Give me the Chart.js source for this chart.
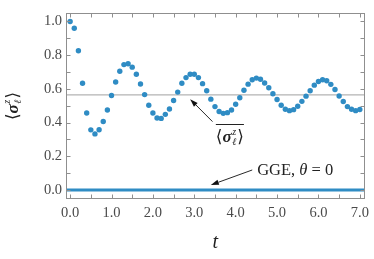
<!DOCTYPE html>
<html><head><meta charset="utf-8">
<script src="https://cdn.jsdelivr.net/npm/chart.js@4.4.1/dist/chart.umd.min.js"></script>
<style>html,body{margin:0;padding:0;background:#fff}#wrap{width:374px;height:259px}</style>
</head><body><div id="wrap"><canvas id="c" width="374" height="259"></canvas></div>
<script>
// ---- data ----
const times = [0.0,0.1,0.2,0.3,0.4,0.5,0.6,0.7,0.8,0.9,1.0,1.1,1.2,1.3,1.4,1.5,1.6,1.7,1.8,1.9,2.0,2.1,2.2,2.3,2.4,2.5,2.6,2.7,2.8,2.9,3.0,3.1,3.2,3.3,3.4,3.5,3.6,3.7,3.8,3.9,4.0,4.1,4.2,4.3,4.4,4.5,4.6,4.7,4.8,4.9,5.0,5.1,5.2,5.3,5.4,5.5,5.6,5.7,5.8,5.9,6.0,6.1,6.2,6.3,6.4,6.5,6.6,6.7,6.8,6.9,7.0];
const sigmaZ = [1.000,0.960,0.826,0.633,0.457,0.357,0.333,0.358,0.407,0.475,
  0.561,0.641,0.705,0.744,0.749,0.729,0.687,0.629,0.566,0.503,
  0.457,0.427,0.425,0.449,0.481,0.531,0.581,0.633,0.667,0.687,
  0.687,0.667,0.631,0.589,0.539,0.495,0.466,0.455,0.459,0.475,
  0.509,0.547,0.592,0.628,0.654,0.664,0.657,0.635,0.607,0.571,
  0.537,0.503,0.479,0.471,0.477,0.497,0.526,0.557,0.589,0.622,
  0.644,0.654,0.648,0.627,0.596,0.558,0.525,0.495,0.479,0.471,
  0.478];
const timeAverage = 0.565;
const ggeValue = 0.0;
const xTickLabels = [0,1,2,3,4,5,6,7];
const xTickMarks = [0,0.5,1,1.5,2,2.5,3,3.5,4,4.5,5,5.5,6,6.5,7];
const yTickLabels = [0,0.2,0.4,0.6,0.8,1.0];
const yTickMarks = [0,0.1,0.2,0.3,0.4,0.5,0.6,0.7,0.8,0.9,1.0];
const ggeText = ['GGE, ', 'θ', ' = 0'];

// ---- style / layout ----
const X_MIN = -0.1, X_MAX = 7.12, Y_MIN = -0.053, Y_MAX = 1.05;
const SERIF = "'Liberation Serif','DejaVu Serif',serif";
const BLUE = '#2f8cc4';
const notes = {
  avgArrow: {from: [3.44, 0.406], to: [2.90, 0.539]},
  avgLabel: [3.86, 0.32],
  ggeArrow: {from: [4.40, 0.119], to: [3.40, 0.03]},
  ggeLabel: [4.52, 0.115]
};

function drawSigma(ctx, cx, cy, size, overline) {
  const base = size + 'px ' + SERIF;
  const bold = 'italic bold ' + size + 'px ' + SERIF;
  const small = 'italic ' + Math.round(size * 0.6) + 'px ' + SERIF;
  ctx.font = base;
  const wL = ctx.measureText('⟨').width, wR = ctx.measureText('⟩').width;
  ctx.font = bold; const wS = ctx.measureText('σ').width;
  ctx.font = small; const wz = Math.max(ctx.measureText('z').width, ctx.measureText('ℓ').width);
  const total = wL + wS + wz + 1.5 + wR;
  let x = cx - total / 2;
  const by = cy + size * 0.33;
  ctx.textAlign = 'left'; ctx.textBaseline = 'alphabetic'; ctx.fillStyle = '#222';
  ctx.font = base; ctx.fillText('⟨', x, by); x += wL;
  ctx.font = bold; ctx.fillText('σ', x, by); x += wS + 0.5;
  ctx.font = small; ctx.fillText('z', x, by - size * 0.42); ctx.fillText('ℓ', x, by + size * 0.22); x += wz + 1;
  ctx.font = base; ctx.fillText('⟩', x, by);
  if (overline) {
    ctx.strokeStyle = '#222'; ctx.lineWidth = 1;
    const oy = Math.round(by - size * 1.05) + 0.5;
    ctx.beginPath(); ctx.moveTo(cx - total / 2, oy); ctx.lineTo(cx + total / 2, oy); ctx.stroke();
  }
}

function arrow(ctx, x0, y0, x1, y1) {
  ctx.strokeStyle = '#111'; ctx.fillStyle = '#111'; ctx.lineWidth = 0.9;
  const a = Math.atan2(y1 - y0, x1 - x0), L = 8, W = 2.6;
  const bx = x1 - L * Math.cos(a), by = y1 - L * Math.sin(a);
  ctx.beginPath(); ctx.moveTo(x0, y0); ctx.lineTo(bx, by); ctx.stroke();
  ctx.beginPath(); ctx.moveTo(x1, y1);
  ctx.lineTo(bx + W * Math.sin(a), by - W * Math.cos(a));
  ctx.lineTo(bx - W * Math.sin(a), by + W * Math.cos(a));
  ctx.closePath(); ctx.fill();
}

const framePlugin = {
  id: 'frame',
  afterDatasetsDraw(chart) {
    const {ctx, chartArea: a, scales: {x, y}} = chart;
    ctx.save();
    ctx.strokeStyle = '#8f8f8f'; ctx.lineWidth = 1;
    const L = Math.round(a.left) + 0.5, R = Math.round(a.right) - 0.5, T = Math.round(a.top) + 0.5, B = Math.round(a.bottom) - 0.5;
    ctx.strokeRect(L, T, R - L, B - T);
    ctx.beginPath();
    xTickMarks.forEach(v => {
      const p = Math.round(x.getPixelForValue(v)) + 0.5;
      ctx.moveTo(p, T); ctx.lineTo(p, T + 4);
      ctx.moveTo(p, B); ctx.lineTo(p, B - 4);
    });
    yTickMarks.forEach(v => {
      const p = Math.round(y.getPixelForValue(v)) + 0.5;
      ctx.moveTo(L, p); ctx.lineTo(L + 4, p);
      ctx.moveTo(R, p); ctx.lineTo(R - 4, p);
    });
    ctx.stroke();
    ctx.restore();
  },
  afterDraw(chart) {
    const {ctx, scales: {x, y}} = chart;
    const P = (pt) => [x.getPixelForValue(pt[0]), y.getPixelForValue(pt[1])];
    ctx.save();
    // y-axis title
    ctx.save();
    ctx.translate(12, (chart.chartArea.top + chart.chartArea.bottom) / 2);
    ctx.rotate(-Math.PI / 2);
    drawSigma(ctx, 0, 0, 17, false);
    ctx.restore();
    // annotations
    let f = P(notes.avgArrow.from), t = P(notes.avgArrow.to);
    arrow(ctx, f[0], f[1], t[0], t[1]);
    const al = P(notes.avgLabel);
    drawSigma(ctx, al[0], al[1], 17, true);
    f = P(notes.ggeArrow.from); t = P(notes.ggeArrow.to);
    arrow(ctx, f[0], f[1], t[0], t[1]);
    const gl = P(notes.ggeLabel);
    let gx = gl[0];
    ctx.textAlign = 'left'; ctx.textBaseline = 'middle'; ctx.fillStyle = '#222';
    ggeText.forEach((s, i) => {
      ctx.font = (i === 1 ? 'italic ' : '') + '16.5px ' + SERIF;
      ctx.fillText(s, gx, gl[1]);
      gx += ctx.measureText(s).width;
    });
    ctx.restore();
  }
};

new Chart(document.getElementById('c'), {
  type: 'scatter',
  data: {
    datasets: [
      {type: 'line', data: [{x: X_MIN, y: timeAverage}, {x: X_MAX, y: timeAverage}], borderColor: '#b3b3b3', borderWidth: 1.2, pointRadius: 0, order: 3},
      {type: 'line', data: [{x: X_MIN, y: ggeValue}, {x: X_MAX, y: ggeValue}], borderColor: BLUE, borderWidth: 3, pointRadius: 0, order: 2},
      {data: times.map((tv, i) => ({x: tv, y: sigmaZ[i]})), backgroundColor: BLUE, borderWidth: 0, pointRadius: 2.7, order: 1}
    ]
  },
  options: {
    responsive: false, animation: false, devicePixelRatio: 1,
    layout: {padding: {top: 13, right: 7, left: 0, bottom: 0}},
    plugins: {legend: {display: false}, tooltip: {enabled: false}},
    scales: {
      x: {
        type: 'linear', min: X_MIN, max: X_MAX,
        afterBuildTicks: s => { s.ticks = xTickLabels.map(v => ({value: v})); },
        afterFit: s => { s.height = 60; },
        ticks: {callback: v => Number(v).toFixed(1), font: {family: SERIF, size: 14.5}, color: '#4a4a4a', padding: 5, maxRotation: 0, autoSkip: false},
        grid: {display: false, drawTicks: false, tickLength: 0},
        border: {display: false},
        title: {display: true, text: 't', font: {family: SERIF, size: 20, style: 'italic'}, color: '#222', padding: {top: 0, bottom: 4}}
      },
      y: {
        type: 'linear', min: Y_MIN, max: Y_MAX,
        afterBuildTicks: s => { s.ticks = yTickLabels.map(v => ({value: v})); },
        afterFit: s => { s.width = 66; },
        ticks: {callback: v => Number(v).toFixed(1), font: {family: SERIF, size: 14.5}, color: '#4a4a4a', padding: 4, autoSkip: false},
        grid: {display: false, drawTicks: false, tickLength: 0},
        border: {display: false}
      }
    }
  },
  plugins: [framePlugin]
});
</script></body></html>
